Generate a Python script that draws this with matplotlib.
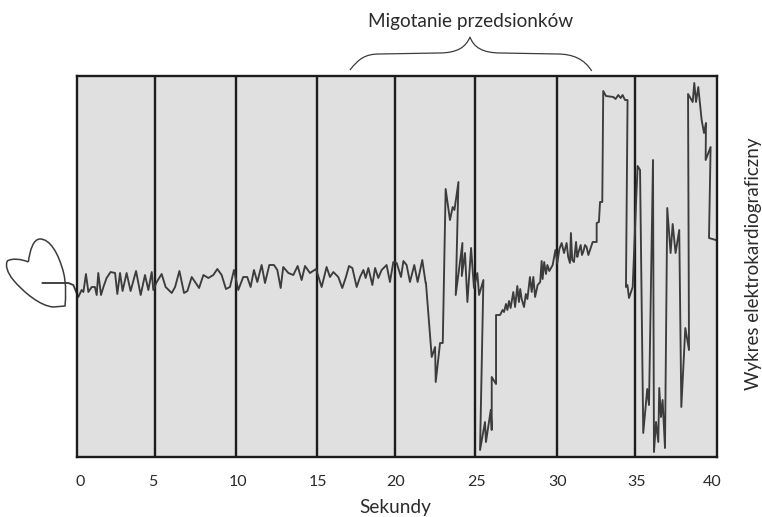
import matplotlib
matplotlib.use("Agg")
import matplotlib.pyplot as plt
from matplotlib.path import Path
from matplotlib.patches import PathPatch

plt.rcParams['font.family'] = ['Lato', 'DejaVu Sans']

#tick labels and where they really sit in the picture (grid is a bit uneven)
tick_labels = ["0", "5", "10", "15", "20", "25", "30", "35", "40"]
tick_pos = [0.19, 4.75, 10.06, 15.06, 19.94, 24.94, 30.06, 34.94, 39.69]
grid_pos = [4.88, 9.94, 15.0, 19.88, 24.88, 30.0, 34.88]

#ecg trace, seconds and amplitude (no unit in the source)
ecg_t = [-2.15, -0.54, -0.23, 0.08, 0.29, 0.40, 0.56, 0.71, 0.92, 1.12, 1.23, 1.33, 1.50, 1.65, 1.85,
         2.10, 2.38, 2.52, 2.69, 2.85, 3.10, 3.35, 3.69, 3.98, 4.25, 4.46, 4.67, 4.77, 4.98, 5.29,
         5.54, 5.92, 6.13, 6.40, 6.69, 6.90, 7.17, 7.63, 7.90, 8.21, 8.52, 8.77, 9.04, 9.31, 9.56,
         9.81, 10.08, 10.39, 10.64, 10.85, 11.06, 11.27, 11.54, 11.75, 12.02, 12.31, 12.52, 12.73,
         12.89, 13.21, 13.52, 13.79, 14.04, 14.25, 14.56, 14.94, 15.29, 15.6, 15.81, 16.02, 16.33,
         16.58, 16.79, 17.0, 17.21, 17.48, 17.69, 17.9, 18.04, 18.21, 18.46, 18.63, 18.83, 19.04,
         19.35, 19.56, 19.77, 19.98, 20.25, 20.4, 20.6, 20.81, 21.08, 21.29, 21.58, 21.79, 21.81,
         22.17, 22.38, 22.42, 22.69, 22.86, 23.04, 23.31, 23.48, 23.59, 23.84, 23.67, 24.09, 24.05,
         24.25, 24.4, 24.63, 24.81, 25.02, 25.13, 25.4, 25.19, 25.5, 25.56, 25.86, 25.92, 25.92,
         26.19, 26.19, 26.44, 26.6, 26.69, 26.81, 26.9, 27.0, 27.1, 27.27, 27.38, 27.52, 27.62,
         27.7, 27.79, 27.94, 28.05, 28.15, 28.31, 28.42, 28.52, 28.63, 28.79, 28.95, 29.04, 29.1,
         29.2, 29.31, 29.4, 29.52, 29.73, 29.9, 30.02, 30.15, 30.29, 30.44, 30.6, 30.7, 30.81,
         30.87, 30.95, 31.06, 31.19, 31.27, 31.33, 31.48, 31.56, 31.64, 31.75, 31.85, 31.96, 32.23,
         32.48, 32.48, 32.62, 32.69, 32.83, 32.89, 33.06, 33.52, 33.66, 33.83, 33.98, 34.1, 34.25,
         34.41, 34.31, 34.4, 34.5, 34.73, 34.94, 35.04, 35.19, 35.39, 35.64, 35.75, 36.0, 36.06,
         36.19, 36.33, 36.39, 36.5, 36.6, 36.75, 36.89, 37.1, 37.23, 37.41, 37.64, 37.77, 38.02,
         38.25, 38.19, 38.48, 38.58, 38.69, 38.83, 39.04, 39.19, 39.31, 39.29, 39.6, 39.5, 39.92]
ecg_v = [174, 174, 172, 160, 167, 165, 183, 165, 170, 170, 162, 184, 162, 170, 179,
         185, 184, 163, 184, 166, 184, 166, 186, 162, 182, 167, 185, 167, 175, 183,
         170, 164, 170, 186, 164, 166, 180, 169, 182, 179, 182, 188, 182, 168, 170,
         187, 167, 180, 180, 170, 187, 175, 192, 174, 192, 192, 187, 169,
         190, 184, 182, 191, 177, 191, 184, 188, 170, 190, 180, 185, 180,
         169, 179, 191, 189, 170, 180, 187, 179, 189, 172, 189, 179, 187,
         192, 175, 195, 194, 180, 196, 192, 175, 192, 175, 197, 174, 174,
         100, 110, 75, 114, 114, 268, 237, 250, 247, 275, 162, 214, 181,
         204, 155, 209, 169, 184, 162, 177, 7, 35, 15, 47, 27, 80,
         73, 142, 142, 147, 145, 153, 147, 156, 149, 165, 150, 171, 155,
         168, 158, 150, 163, 158, 180, 165, 180, 160, 172, 175, 196, 178,
         195, 183, 192, 186, 192, 207, 194, 208, 214, 204, 214, 200, 194,
         224, 197, 195, 215, 200, 204, 212, 202, 205, 212, 210, 202, 215,
         215, 234, 235, 255, 255, 366, 361, 360, 358, 362, 359, 362, 357,
         357, 170, 172, 159, 170, 254, 291, 287, 24, 68, 52, 297, 5,
         35, 15, 69, 40, 57, 9, 249, 204, 233, 204, 227, 50, 129,
         107, 363, 355, 374, 355, 370, 337, 324, 334, 297, 310, 219, 217]

#hand drawn heart on the left, bezier control points
heart_verts = [(-3.04, 195), (-2.94, 207), (-2.73, 218), (-2.31, 218),
               (-1.69, 218), (-1.17, 204), (-0.85, 185),
               (-0.65, 172), (-0.71, 160), (-0.75, 151), (-1.48, 150),
               (-2.31, 151), (-3.35, 165), (-3.98, 177),
               (-4.35, 184), (-4.5, 192), (-4.35, 196),
               (-4.08, 199), (-3.46, 198), (-3.04, 195)]
heart_codes = [Path.MOVETO, Path.CURVE4, Path.CURVE4, Path.CURVE4,
               Path.CURVE4, Path.CURVE4, Path.CURVE4,
               Path.CURVE4, Path.CURVE4, Path.CURVE4, Path.LINETO,
               Path.CURVE4, Path.CURVE4, Path.CURVE4,
               Path.CURVE4, Path.CURVE4, Path.CURVE4,
               Path.CURVE4, Path.CURVE4, Path.CURVE4]

fig = plt.figure(figsize=(7.62, 5.17), dpi=100)
ax = fig.add_axes([77 / 762, 1 - 457 / 517, 640 / 762, 381 / 517])
ax.set_xlim(0, 40)
ax.set_ylim(0, 381)
ax.set_facecolor("#e0e0e0")

for g in grid_pos:
    ax.axvline(g, color="#1c1c1c", lw=1.7, zorder=2)

ax.plot(ecg_t, ecg_v, color="#3c3c3c", lw=1.35, clip_on=False, zorder=3, solid_joinstyle="round")
ax.add_patch(PathPatch(Path(heart_verts, heart_codes), fill=False, ec="#3c3c3c", lw=1.1, clip_on=False, zorder=3))

#brace over the fibrillation part
brace_verts = [(17.06, 387), (17.6, 398), (18.0, 403), (18.9, 403), (22.6, 404),
               (23.8, 404), (24.3, 410), (24.56, 420), (24.8, 410), (25.3, 404), (26.5, 404),
               (30.0, 403), (31.0, 403), (31.7, 398), (32.17, 386)]
brace_codes = [Path.MOVETO, Path.CURVE4, Path.CURVE4, Path.CURVE4, Path.LINETO,
               Path.CURVE4, Path.CURVE4, Path.CURVE4, Path.CURVE4, Path.CURVE4, Path.CURVE4,
               Path.LINETO, Path.CURVE4, Path.CURVE4, Path.CURVE4]
ax.add_patch(PathPatch(Path(brace_verts, brace_codes), fill=False, ec="#3c3c3c", lw=0.9, clip_on=False))

for s in ax.spines.values():
    s.set_linewidth(1.7)
    s.set_color("#1c1c1c")
    s.set_zorder(4)

ax.set_yticks([])
ax.set_xticks(tick_pos)
ax.set_xticklabels(tick_labels, fontsize=11.5, color="#2b2b2b")
ax.tick_params(axis="x", length=0, pad=13)

fig.text(395 / 762, 1 - 507 / 517, "Sekundy", ha="center", va="center", fontsize=13.7, color="#2b2b2b")
fig.text(471 / 762, 1 - 21 / 517, "Migotanie przedsionków", ha="center", va="center", fontsize=13.7, color="#2b2b2b")
fig.text(754 / 762, 1 - 264 / 517, "Wykres elektrokardiograficzny", ha="center", va="center",
         rotation=90, fontsize=13.5, color="#2b2b2b")

fig.savefig("out.png", dpi=100)
